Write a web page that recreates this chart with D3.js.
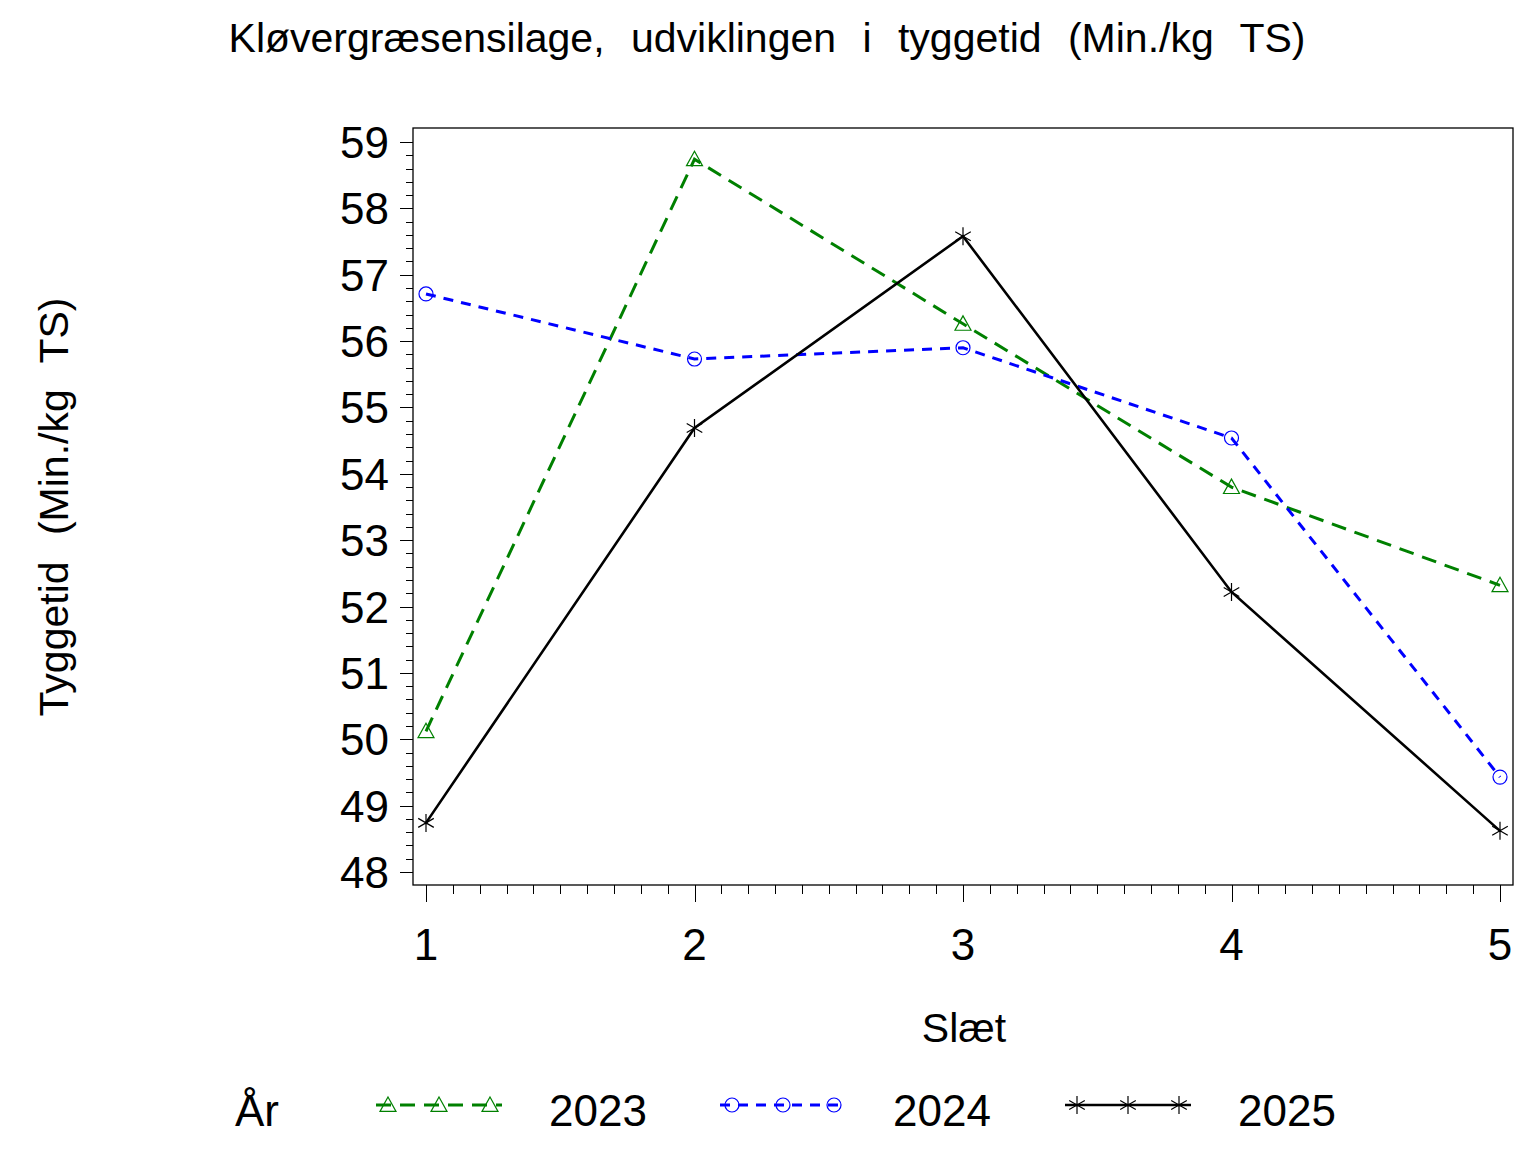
<!DOCTYPE html>
<html><head><meta charset="utf-8">
<script src="https://cdn.jsdelivr.net/npm/d3@7"></script>
<style>body{margin:0;background:#fff}svg{display:block;font-family:"Liberation Sans",Arial,sans-serif}</style>
</head><body>
<script>
const slaet = [1, 2, 3, 4, 5];
const years = ["2023", "2024", "2025"];
const v2023 = [50.12, 58.74, 56.26, 53.80, 52.32];
const v2024 = [56.71, 55.73, 55.90, 54.54, 49.43];
const v2025 = [48.74, 54.69, 57.58, 52.22, 48.62];
const yTicks = [48, 49, 50, 51, 52, 53, 54, 55, 56, 57, 58, 59];
const xTicks = [1, 2, 3, 4, 5];

const W = 1536, H = 1152;
const svg = d3.select("body").append("svg").attr("width", W).attr("height", H);

const x = d3.scaleLinear().domain([1, 5]).range([426, 1500]);
const y = d3.scaleLinear().domain([48, 59]).range([872, 142]);
const frame = {l: 413, r: 1513, t: 128, b: 885};

svg.append("rect").attr("x", frame.l).attr("y", frame.t)
  .attr("width", frame.r - frame.l).attr("height", frame.b - frame.t)
  .attr("fill", "none").attr("stroke", "#000").attr("stroke-width", 1.3);

const yMinor = d3.range(48, 59.0001, 0.2);
svg.append("g").selectAll("line").data(yMinor).join("line")
  .attr("x1", d => Math.abs(d - Math.round(d)) < 1e-6 ? 400 : 406).attr("x2", frame.l)
  .attr("y1", d => Math.round(y(d)) + 0.5).attr("y2", d => Math.round(y(d)) + 0.5)
  .attr("stroke", "#000").attr("stroke-width", 1);
svg.append("g").selectAll("text").data(yTicks).join("text")
  .attr("x", 389).attr("y", d => y(d) + 16)
  .attr("text-anchor", "end").attr("font-size", 44).text(d => d);

const xMinor = d3.range(1, 5.0001, 0.1);
svg.append("g").selectAll("line").data(xMinor).join("line")
  .attr("y1", frame.b).attr("y2", d => Math.abs(d - Math.round(d)) < 1e-6 ? 902 : 894)
  .attr("x1", d => Math.round(x(d)) + 0.5).attr("x2", d => Math.round(x(d)) + 0.5)
  .attr("stroke", "#000").attr("stroke-width", 1);
svg.append("g").selectAll("text").data(xTicks).join("text")
  .attr("x", d => x(d)).attr("y", 960)
  .attr("text-anchor", "middle").attr("font-size", 44).text(d => d);

svg.append("text").attr("x", 767).attr("y", 52).attr("text-anchor", "middle")
  .attr("font-size", 41).attr("word-spacing", 15)
  .text("Kløvergræsensilage, udviklingen i tyggetid (Min./kg TS)");
svg.append("text").attr("transform", "translate(68,507) rotate(-90)")
  .attr("text-anchor", "middle").attr("font-size", 41).attr("word-spacing", 15)
  .text("Tyggetid (Min./kg TS)");
svg.append("text").attr("x", 964).attr("y", 1042).attr("text-anchor", "middle")
  .attr("font-size", 41).text("Slæt");

const styles = {
  "2023": {color: "#008000", dash: "15,9", width: 3, marker: "tri", values: v2023},
  "2024": {color: "#0000ff", dash: "10,8", width: 3, marker: "circ", values: v2024},
  "2025": {color: "#000000", dash: null, width: 2.6, marker: "star", values: v2025}
};

function drawMarker(g, type, cx, cy, color) {
  if (type === "tri") {
    const s = 8;
    g.append("path").attr("d", `M${cx},${cy - s}L${cx + s},${cy + s * 0.8}L${cx - s},${cy + s * 0.8}Z`)
      .attr("fill", "none").attr("stroke", color).attr("stroke-width", 1.2);
  } else if (type === "circ") {
    g.append("circle").attr("cx", cx).attr("cy", cy).attr("r", 7)
      .attr("fill", "none").attr("stroke", color).attr("stroke-width", 1.2);
  } else {
    const r = 9;
    const a = Math.PI / 6;
    const p = `M${cx},${cy - r}L${cx},${cy + r}` +
      `M${cx - r * Math.cos(a)},${cy - r * Math.sin(a)}L${cx + r * Math.cos(a)},${cy + r * Math.sin(a)}` +
      `M${cx - r * Math.cos(a)},${cy + r * Math.sin(a)}L${cx + r * Math.cos(a)},${cy - r * Math.sin(a)}`;
    g.append("path").attr("d", p).attr("stroke", color).attr("stroke-width", 1.2).attr("fill", "none");
  }
}

const line = d3.line().x((d, i) => x(slaet[i])).y(d => y(d));
years.forEach(yr => {
  const s = styles[yr];
  const g = svg.append("g");
  g.append("path").datum(s.values).attr("d", line)
    .attr("fill", "none").attr("stroke", s.color).attr("stroke-width", s.width)
    .attr("stroke-dasharray", s.dash);
  s.values.forEach((v, i) => drawMarker(g, s.marker, x(slaet[i]), y(v), s.color));
});

const legY = 1105;
svg.append("text").attr("x", 235).attr("y", legY + 21).attr("font-size", 44).text("År");
const legX = {"2023": 376, "2024": 720, "2025": 1065};
years.forEach(yr => {
  const s = styles[yr];
  const g = svg.append("g");
  const x0 = legX[yr];
  g.append("line").attr("x1", x0).attr("x2", x0 + 126).attr("y1", legY).attr("y2", legY)
    .attr("stroke", s.color).attr("stroke-width", s.width).attr("stroke-dasharray", s.dash);
  [12, 63, 114].forEach(dx => drawMarker(g, s.marker, x0 + dx, legY, s.color));
  g.append("text").attr("x", x0 + 173).attr("y", legY + 21).attr("font-size", 44).text(yr);
});
</script>
</body></html>
